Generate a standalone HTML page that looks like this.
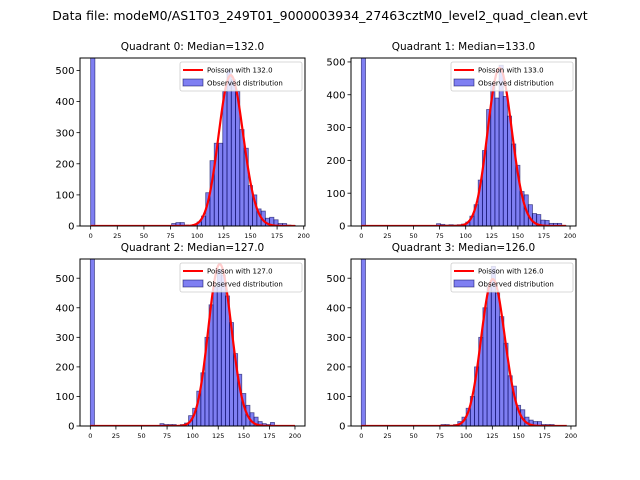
<!DOCTYPE html>
<html><head><meta charset="utf-8"><style>
body{margin:0;background:#fff;}
svg{display:block;font-family:"DejaVu Sans","Liberation Sans",sans-serif;}
</style></head><body>
<svg id="fig" width="640" height="480">
<text x="320" y="20" text-anchor="middle" font-size="12.5">Data file: modeM0/AS1T03_249T01_9000003934_27463cztM0_level2_quad_clean.evt</text>
</svg>
<script>
const medians = [132, 133, 127, 126];
const zeroBinCounts = [3000, 3000, 3000, 3000];
const binWidth = 4;
const binStarts0 = [76,80,84,88,92,96,100,104,108,112,116,120,124,128,132,136,140,144,148,152,156,160,164,168,172,176,180,184,188];
const counts0 = [8,11,11,3,2,5,13,32,107,210,266,266,432,500,470,432,310,250,130,100,55,48,25,28,20,8,8,3,2];
const binStarts1 = [72,76,80,84,88,92,96,100,104,108,112,116,120,124,128,132,136,140,144,148,152,156,160,164,168,172,176,180,184,188,192];
const counts1 = [7,5,3,4,3,4,6,12,30,65,140,230,355,435,390,490,395,335,250,185,105,95,65,38,35,18,17,8,8,8,2];
const binStarts2 = [68,72,76,80,84,88,92,96,100,104,108,112,116,120,124,128,132,136,140,144,148,152,156,160,164,168,172,176,180];
const counts2 = [8,5,5,5,2,5,10,35,60,118,180,300,410,470,530,510,440,350,245,175,110,70,45,30,15,8,5,12,2];
const binStarts3 = [76,80,84,88,92,96,100,104,108,112,116,120,124,128,132,136,140,144,148,152,156,160,164,168,172,176,180];
const counts3 = [5,5,2,5,15,30,60,100,200,300,400,470,540,450,370,280,170,135,70,55,30,20,15,15,5,5,5];
const xTicks = [0,25,50,75,100,125,150,175,200];
const yTicks = [0,100,200,300,400,500];

const panels = [
 {x0:80,x1:305,y0:58,y1:226,xmin:-10,xmax:201.2,ymax:540,curveEnd:192},
 {x0:351,x1:576,y0:58,y1:226,xmin:-9.9,xmax:205.7,ymax:512,curveEnd:196},
 {x0:80,x1:305,y0:259,y1:426,xmin:-10.1,xmax:209.8,ymax:565,curveEnd:200},
 {x0:351,x1:576,y0:259,y1:426,xmin:-9.8,xmax:204.8,ymax:565,curveEnd:196}
];
const allStarts=[binStarts0,binStarts1,binStarts2,binStarts3];
const allCounts=[counts0,counts1,counts2,counts3];
const NS="http://www.w3.org/2000/svg";
const fig=document.getElementById('fig');
function mk(tag,attrs,parent){const e=document.createElementNS(NS,tag);for(const k in attrs)e.setAttribute(k,attrs[k]);(parent||fig).appendChild(e);return e;}
function logPois(k,l){let s=0;for(let i=2;i<=k;i++)s+=Math.log(i);return k*Math.log(l)-l-s;}

panels.forEach((p,i)=>{
  const g=mk('g',{});
  
  
  const sx=v=>p.x0+(v-p.xmin)/(p.xmax-p.xmin)*(p.x1-p.x0);
  const sy=v=>p.y1-v/p.ymax*(p.y1-p.y0);
  const clipId='clip'+i;
  const cp=mk('clipPath',{id:clipId},g);
  mk('rect',{x:p.x0,y:p.y0,width:p.x1-p.x0,height:p.y1-p.y0},cp);
  const plot=mk('g',{'clip-path':'url(#'+clipId+')'},g);
  const starts=[0].concat(allStarts[i]);
  const cnts=[zeroBinCounts[i]].concat(allCounts[i]);
  starts.forEach((s,j)=>{
    const r=mk('rect',{x:sx(s),y:sy(cnts[j]),width:sx(s+binWidth)-sx(s),height:sy(0)-sy(cnts[j]),fill:'rgba(0,0,230,0.5)',stroke:'rgba(0,0,80,0.6)','stroke-width':0.8},plot);
    
    
  });
  const total=allCounts[i].reduce((a,b)=>a+b,0);
  let d='';
  for(let k=0;k<=p.curveEnd;k++){
    const v=total*binWidth*0.93*Math.exp(logPois(k,medians[i]));
    d+=(k?'L':'M')+sx(k).toFixed(2)+','+sy(v).toFixed(2);
  }
  const c=mk('path',{d:d,fill:'none',stroke:'#ff0000','stroke-width':2.2},plot);
  
  
  mk('rect',{x:p.x0,y:p.y0,width:p.x1-p.x0,height:p.y1-p.y0,fill:'none',stroke:'#000','stroke-width':1},g);
  xTicks.forEach(t=>{
    const x=sx(t);
    mk('line',{x1:x,x2:x,y1:p.y1,y2:p.y1+3.5,stroke:'#000','stroke-width':0.8},g);
    const tx=mk('text',{x:x,y:p.y1+12,'text-anchor':'middle','font-size':6.5},g);
    tx.textContent=t;
    
    
  });
  yTicks.forEach(t=>{
    const y=sy(t);
    mk('line',{x1:p.x0-3.5,x2:p.x0,y1:y,y2:y,stroke:'#000','stroke-width':0.8},g);
    const tx=mk('text',{x:p.x0-5.5,y:y+3.6,'text-anchor':'end','font-size':10},g);
    tx.textContent=t;
    
    
  });
  const title=mk('text',{x:(p.x0+p.x1)/2,y:p.y0-8,'text-anchor':'middle','font-size':10.5},g);
  title.textContent='Quadrant '+i+': Median='+medians[i].toFixed(1);
  
  
  const lx=p.x1-125, ly=p.y0+4;
  const lg=mk('g',{},g);
  
  
  mk('rect',{x:lx,y:ly,width:122,height:29,rx:2,fill:'rgba(255,255,255,0.8)',stroke:'#ccc','stroke-width':0.8},lg);
  mk('line',{x1:lx+3,x2:lx+23,y1:ly+8,y2:ly+8,stroke:'#ff0000','stroke-width':2},lg);
  const t1=mk('text',{x:lx+27,y:ly+10.5,'font-size':7},lg);
  t1.textContent='Poisson with '+medians[i].toFixed(1);
  mk('rect',{x:lx+3,y:ly+17,width:20,height:7,fill:'rgba(0,0,230,0.5)',stroke:'rgba(0,0,80,0.6)','stroke-width':0.8},lg);
  const t2=mk('text',{x:lx+27,y:ly+23.5,'font-size':7},lg);
  t2.textContent='Observed distribution';
});
</script>
</body></html>
